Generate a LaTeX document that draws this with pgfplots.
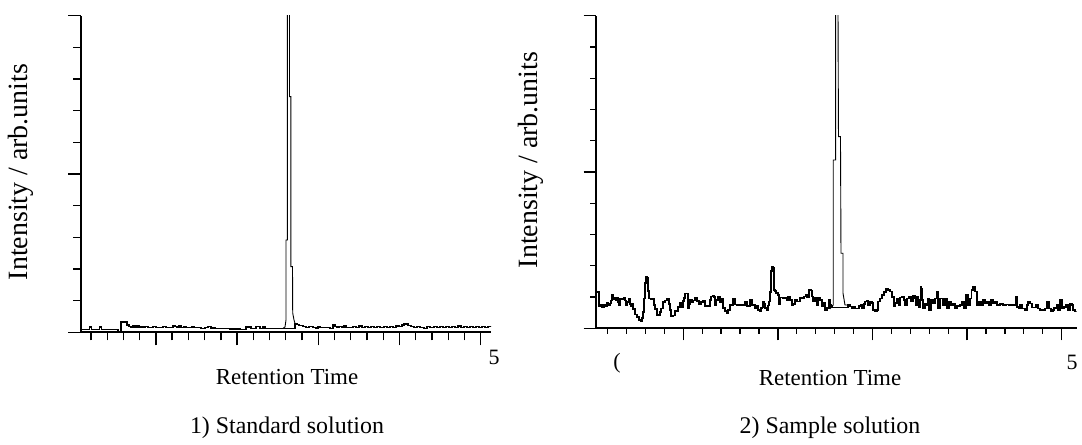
\documentclass[border=0pt]{standalone}
\usepackage{pgfplots}
\pgfplotsset{compat=1.18}
\usepackage{pgfplotstable}
\usepackage{fontspec}
\setmainfont{Liberation Serif}

% values in picture coordinates (px, py), converted to
% retention time / intensity by the axis x expr / y expr below
\pgfplotstableread[row sep=\\]{
px py\\
81 329.3\\ 89 329.3\\ 89.5 327\\ 91 327\\ 91.5 329.3\\ 99 329.3\\ 99.5 327\\ 101 327\\ 101.5 329.3\\ 117 329.3\\
118 331.5\\ 120 331.5\\ 121 322\\ 124 321.5\\ 126 322\\ 127 325\\ 129 326.5\\ 131 327.5\\ 133 326\\ 135 327.5\\
137 326\\ 139 327.5\\ 141 326.2\\ 143 327.3\\ 145 326.5\\ 148 327.3\\ 151 327.5\\ 153 326.5\\ 156 327.5\\ 160 327.8\\
163 326.8\\ 166 327.8\\ 170 327.8\\ 173 325.8\\ 175 326.5\\ 177 327.5\\ 179 326\\ 181 327.5\\ 184 326.3\\ 186 327.5\\
189 327.8\\ 192 326.5\\ 194 327.8\\ 198 327.5\\ 201 328.3\\ 205 327.8\\ 208 326.5\\ 211 328\\ 215 328.3\\ 220 328.3\\
225 328.5\\ 230 329\\ 240 329.3\\ 245 329.3\\ 246 327\\ 250 327\\ 251 328.3\\ 255 328.3\\ 256 326.5\\ 259 326.5\\
260 328.3\\ 262 328.3\\ 263 326.5\\ 265 328.3\\ 280 328.3\\ 293 328.3\\ 295 323.5\\ 297 324.5\\ 299 325.8\\ 303 326.3\\
306 327.5\\ 309 326.5\\ 313 327.8\\ 316 328.3\\ 318 326.3\\ 320 327.8\\ 324 327.8\\ 330 328.3\\ 333 325\\ 335 326.7\\
337 327.8\\ 339 326.3\\ 342 327\\ 344 325.5\\ 346 327.3\\ 350 327.5\\ 353 326.3\\ 356 327.5\\ 359 326\\ 362 327.5\\
365 326.5\\ 368 327.5\\ 371 326.5\\ 374 327.5\\ 377 326.5\\ 380 327.5\\ 384 326.3\\ 387 327.5\\ 390 326.5\\ 393 327.3\\
396 326\\ 399 326.5\\ 402 325\\ 404 323.5\\ 406 324\\ 408 325.5\\ 411 326.3\\ 414 327.5\\ 417 326.3\\ 420 327.3\\
424 328.3\\ 427 326.5\\ 430 327.8\\ 434 326.8\\ 437 327.8\\ 440 326.5\\ 443 327.5\\ 446 326.3\\ 449 327.5\\ 452 326.5\\
455 327.3\\ 458 326\\ 461 327.3\\ 464 326.3\\ 467 327.5\\ 470 326.3\\ 473 327.5\\ 476 326.3\\ 479 327.3\\ 482 326.3\\
485 327.5\\ 488 326.5\\ 491 327.3\\
}\leftbase

\pgfplotstableread[row sep=\\]{
px py\\
283 328.3\\ 285 327\\ 286 320\\ 286 240\\ 287.3 240\\ 287.3 5\\ 289.5 5\\ 289.5 96.7\\ 290.8 96.7\\ 290.8 266.7\\
292.5 266.7\\ 292.7 313\\ 294 320\\ 295 323.5\\
}\leftpeak

\pgfplotstableread[row sep=\\]{
px py\\
596 292\\ 598 291.5\\ 599 306.7\\ 600 305\\ 602 307\\ 604 305\\ 605 306\\ 607 303\\ 608 305\\ 610 303.5\\
611 300.5\\ 612 294.5\\ 613 299.5\\ 615 298\\ 616 300\\ 617 297.5\\ 618 302\\ 619 305\\ 620 298.5\\ 622 299.5\\
624 298\\ 625 300.5\\ 626 305\\ 627 302\\ 629 299\\ 630 304\\ 631 306.7\\ 632 304\\ 633 309\\ 635 314.5\\
637 317\\ 639 320\\ 641 321.7\\ 642 318\\ 643 312\\ 644 298.3\\ 645 283\\ 646 277\\ 647 278\\ 648 291\\
649 298.3\\ 651 299\\ 653 298.3\\ 654 305\\ 655 309\\ 657 315\\ 659 315\\ 660 312\\ 661 308.3\\ 663 302\\
665 300.5\\ 667 299\\ 668 298.5\\ 669 304\\ 670 310\\ 671 316.7\\ 673 315.5\\ 675 310.5\\ 677 311\\ 678 307\\
680 303\\ 681 307\\ 683 301\\ 684 298\\ 685 293.5\\ 687 293.5\\ 688 308\\ 689 304\\ 690 300\\ 692 302\\
693 300.5\\ 695 297.7\\ 697 301\\ 699 304\\ 701 302\\ 703 301\\ 705 306\\ 707 306.7\\ 708 306\\ 710 300\\
711 296.5\\ 713 296\\ 714 297\\ 715 305\\ 716 300\\ 718 297\\ 720 302.5\\ 721 299\\ 723 308\\ 725 311\\
727 313\\ 728 310\\ 730 305\\ 733 298.5\\ 735 304.5\\ 737 305\\ 740 305\\ 743 305\\ 745 301.5\\ 747 306\\
750 300\\ 752 305\\ 755 308\\ 757 306\\ 758 310\\ 760 311\\ 761 308\\ 762 307.7\\ 763 302\\ 764 303.5\\
765 308\\ 767 310\\ 768 305.5\\ 769 301.7\\ 770 292\\ 771 271\\ 772 266.7\\ 773 268\\ 774 290\\ 775 291\\
776 293\\ 778 295\\ 779 304\\ 780 297.7\\ 783 298.5\\ 785 297.7\\ 787 300\\ 788 296.5\\ 790 300\\ 792 305\\
793 304\\ 795 300\\ 797 301.5\\ 800 297.7\\ 802 298.5\\ 804 296.5\\ 806 295\\ 807 297\\ 809 290\\ 811 290.5\\
812 296.5\\ 813 301.7\\ 815 298\\ 817 305\\ 818 298\\ 820 300\\ 822 306.7\\ 823 303\\ 825 310\\ 827 308\\
829 300\\ 830 305\\ 831 307\\ 832 307.7\\ 847 307.7\\ 848 305\\ 850 306.7\\ 852 308\\ 854 306.7\\ 855 308.3\\
857 308.3\\ 859 306\\ 861 305\\ 862 308.3\\ 864 304\\ 865 301.7\\ 867 300.5\\ 868 305\\ 870 301.7\\ 872 303\\
873 310\\ 875 311.7\\ 877 310\\ 878 301.7\\ 880 298.3\\ 882 295\\ 884 292\\ 886 288.3\\ 888 290\\ 890 291.7\\
892 297\\ 894 306.7\\ 895 303\\ 897 298.3\\ 899 305\\ 900 297.7\\ 902 296.7\\ 904 300\\ 905 305\\ 907 298.7\\
909 297\\ 911 301.7\\ 913 296\\ 915 298\\ 916 305\\ 917 296.7\\ 918 300\\ 919 307.7\\ 920 304\\ 920.7 287\\
921.5 288.3\\ 922 300\\ 923 308.3\\ 925 303.3\\ 927 305\\ 928 298.3\\ 929 310\\ 931 300\\ 933 303.3\\ 935 298.3\\
936.7 291.7\\ 937.5 292\\ 938 308.3\\ 940 298.3\\ 942 298.3\\ 943 305\\ 945 298.3\\ 947 308.3\\ 949 301.7\\ 951 305\\
953 303.3\\ 955 308.3\\ 957 306\\ 960 305\\ 962 301.7\\ 964 308.3\\ 966 295\\ 968 305\\ 970 298.3\\ 971.7 290\\
973 286.7\\ 975 291.7\\ 977 305\\ 979 301.7\\ 981 305\\ 983 300\\ 985 303.3\\ 987 301.7\\ 989 305\\ 991 300\\
993 303.3\\ 995 302\\ 997 305\\ 1000 304\\ 1003 305\\ 1006 304.5\\ 1009 305\\ 1012 305\\ 1016 296.7\\ 1017 307\\
1019 308.3\\ 1020 305\\ 1022 308.3\\ 1025 310\\ 1027 305\\ 1028 301.7\\ 1030 303.3\\ 1032 307.7\\ 1035 307.5\\ 1036 305\\
1038 308.3\\ 1040 310\\ 1043 310\\ 1045 308.3\\ 1047 301.7\\ 1049 308.3\\ 1051 311.7\\ 1053 310\\ 1054 308\\ 1057 305\\
1058 310\\ 1060 300\\ 1062 308.3\\ 1064 307\\ 1066 305\\ 1068 310\\ 1070 303.3\\ 1072 305\\ 1073 310\\ 1075 311.7\\
1077 311\\
}\rightbase

\pgfplotstableread[row sep=\\]{
px py\\
830 309\\ 832 306\\ 833.3 305\\ 833.3 160\\ 835.7 160\\ 835.7 5\\ 838 5\\ 838.5 136.7\\ 840.5 136.7\\ 841 253.3\\
843 253.3\\ 843 293\\ 845 305\\ 848 305\\
}\rightpeak

\pgfplotsset{
  chrom/.style={
    scale only axis,
    axis x line=bottom, axis y line=left,
    axis line style={-, line width=2bp, black},
    tick align=outside,
    every tick/.style={black, line width=1.3bp},
    xticklabels={}, yticklabels={},
    ymin=0, ymax=10,
    ytick={0,5,10}, minor ytick={1,2,3,4,6,7,8,9},
    xtick={1,2,3,4,5},
    minor xtick={0.2,0.4,0.6,0.8,1.2,1.4,1.6,1.8,2.2,2.4,2.6,2.8,3.2,3.4,3.6,3.8,4.2,4.4,4.6,4.8},
    anchor=south west,
  },
}

\begin{document}
\begin{tikzpicture}
\useasboundingbox (0,0) rectangle (1082bp,445bp);

% ---- left: standard solution
\begin{axis}[chrom,
  at={(81bp,112.7bp)}, width=410bp, height=316.6bp,
  xmin=0.0776, xmax=5.1268,
  major tick length=13bp, minor tick length=8bp,
]
\addplot[const plot, black, line width=1.2bp]
  table[x expr={(\thisrow{px}-74.7)/81.2}, y expr={(332.3-\thisrow{py})/31.66}] {\leftbase};
\addplot[sharp plot, black, line width=0.9bp]
  table[x expr={(\thisrow{px}-74.7)/81.2}, y expr={(332.3-\thisrow{py})/31.66}] {\leftpeak};
\end{axis}

% ---- right: sample solution
\begin{axis}[chrom,
  at={(595.7bp,116.7bp)}, width=481bp, height=312.6bp,
  xmin=0.074, xmax=5.159,
  major tick length=12bp, minor tick length=5.5bp,
]
\addplot[const plot, black, line width=1.2bp]
  table[x expr={(\thisrow{px}-588.7)/94.6}, y expr={(328.3-\thisrow{py})/31.26}] {\rightbase};
\addplot[sharp plot, black, line width=0.9bp]
  table[x expr={(\thisrow{px}-588.7)/94.6}, y expr={(328.3-\thisrow{py})/31.26}] {\rightpeak};
\end{axis}

% ---- texts
\node[rotate=90, font=\fontsize{28}{30}\selectfont] at (21bp,273bp) {Intensity / arb.units};
\node[rotate=90, font=\fontsize{28}{30}\selectfont] at (531bp,285bp) {Intensity / arb.units};
\node[font=\fontsize{23}{25}\selectfont] at (287bp,68bp) {Retention Time};
\node[font=\fontsize{23}{25}\selectfont] at (830bp,67bp) {Retention Time};
\node[font=\fontsize{24}{26}\selectfont] at (287bp,17bp) {1) Standard solution};
\node[font=\fontsize{24}{26}\selectfont] at (830bp,17bp) {2) Sample solution};
\node[font=\fontsize{22}{24}\selectfont] at (494bp,88bp) {5};
\node[font=\fontsize{22}{24}\selectfont] at (617bp,82bp) {(};
\node[font=\fontsize{22}{24}\selectfont] at (1072bp,83bp) {5};
\end{tikzpicture}
\end{document}
